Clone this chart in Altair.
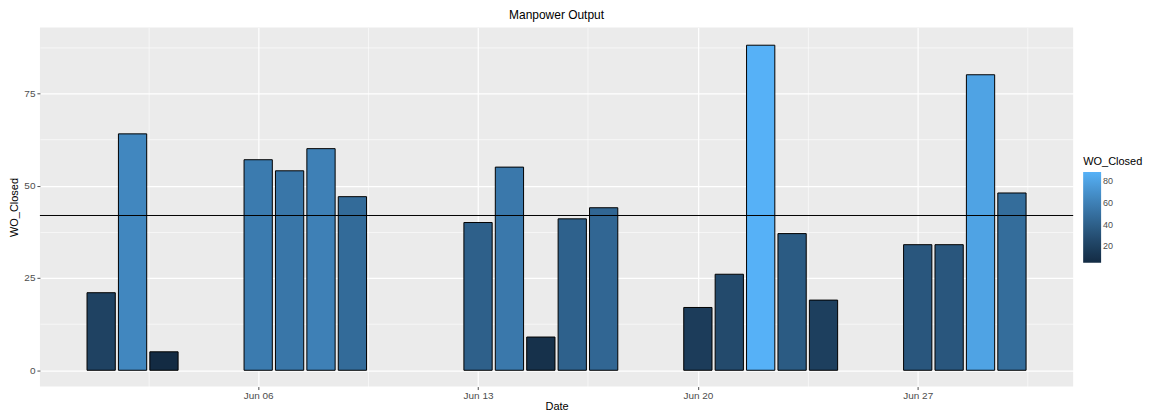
import altair as alt
import pandas as pd

dates = ["2017-06-01", "2017-06-02", "2017-06-03",
         "2017-06-06", "2017-06-07", "2017-06-08", "2017-06-09",
         "2017-06-13", "2017-06-14", "2017-06-15", "2017-06-16", "2017-06-17",
         "2017-06-20", "2017-06-21", "2017-06-22", "2017-06-23", "2017-06-24",
         "2017-06-27", "2017-06-28", "2017-06-29", "2017-06-30"]
wo_closed = [21, 64, 5,
             57, 54, 60, 47,
             40, 55, 9, 41, 44,
             17, 26, 88, 37, 19,
             34, 34, 80, 48]

df = pd.DataFrame({"Date": dates, "WO_Closed": wo_closed})

FONT = "Liberation Sans"
DAY = 86400000
x_min = "2017-05-30T01:12:00Z"
x_max = "2017-07-01T22:48:00Z"
half_week_vals = [alt.DateTime(year=2017, month=6, date=d, hours=h, utc=True)
                  for d, h in [(2, 12), (6, 0), (9, 12), (13, 0), (16, 12),
                               (20, 0), (23, 12), (27, 0), (30, 12)]]
is_week = "utcdate(datum.value) % 7 == 6 && utchours(datum.value) == 0"

x_scale = alt.Scale(type="utc", domain=[x_min, x_max], nice=False)
y_scale = alt.Scale(domain=[-4.4, 92.8], nice=False, zero=False)

base = alt.Chart(df).transform_calculate(
    t="toDate(datum.Date)",
    x0=f"datum.t - {0.45 * DAY}",
    x1=f"datum.t + {0.45 * DAY}",
)

bars = base.mark_bar(stroke="black", strokeWidth=1).encode(
    x=alt.X("x0:T", scale=x_scale, title="Date",
            axis=alt.Axis(values=half_week_vals, labelPadding=1, titlePadding=0,
                          labelExpr=f"({is_week}) ? utcFormat(datum.value, '%b %d') : ''",
                          tickOpacity={"condition": {"test": is_week, "value": 1}, "value": 0},
                          gridWidth={"condition": {"test": is_week, "value": 1.2}, "value": 0.6})),
    x2="x1:T",
    y=alt.Y("WO_Closed:Q", scale=y_scale, title="WO_Closed",
            axis=alt.Axis(values=[0, 12.5, 25, 37.5, 50, 62.5, 75, 87.5],
                          labelPadding=2, titlePadding=4,
                          labelExpr="datum.value % 25 == 0 ? datum.label : ''",
                          tickOpacity={"condition": {"test": "datum.value % 25 == 0", "value": 1}, "value": 0},
                          gridWidth={"condition": {"test": "datum.value % 25 == 0", "value": 1.2}, "value": 0.6})),
    y2=alt.datum(0),
    color=alt.Color("WO_Closed:Q",
                    scale=alt.Scale(range=["#132B43", "#56B1F7"], interpolate="lab",
                                    zero=False, nice=False),
                    legend=alt.Legend(title="WO_Closed", values=[20, 40, 60, 80],
                                      orient="none", legendX=1046, legendY=129,
                                      padding=0,
                                      gradientLength=91, gradientThickness=18,
                                      gradientStrokeWidth=0,
                                      titleFont=FONT, titleFontSize=11, titleFontWeight="normal",
                                      titleColor="black", labelFont=FONT, labelFontSize=9,
                                      labelColor="#4D4D4D", tickCount=4)),
)

mean_rule = alt.Chart(df).mark_rule(color="black", strokeWidth=1).encode(
    y=alt.Y("mean(WO_Closed):Q", scale=y_scale),
)

chart = alt.layer(bars, mean_rule).properties(
    width=1036, height=360, padding=0,
    title=alt.TitleParams("Manpower Output", font=FONT, fontSize=12, fontWeight="normal",
                          color="black", anchor="middle", offset=6),
).configure_view(
    fill="#EBEBEB", stroke=None,
).configure_axis(
    gridColor="white", domain=False, tickColor="#4D4D4D", tickSize=3,
    labelFont=FONT, labelFontSize=10, labelColor="#4D4D4D",
    titleFont=FONT, titleFontSize=11, titleFontWeight="normal", titleColor="black",
)

chart.save("out.html", embed_options={"renderer": "svg", "actions": False})
